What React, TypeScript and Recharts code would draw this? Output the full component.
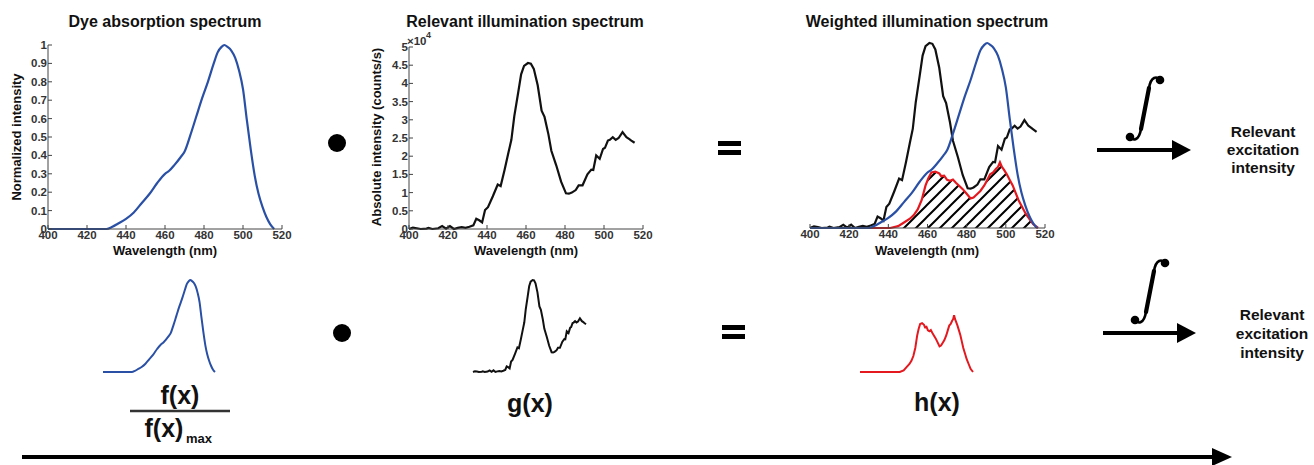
import React from 'react';
import { LineChart, ComposedChart, Line, Area, XAxis, YAxis } from 'recharts';

// dye absorption f(x), normalized
const absWl = [400, 410, 420, 430, 433, 436, 440, 444, 448, 452, 456, 460, 462, 465, 468, 470, 473, 476, 479, 482, 485, 487, 489, 490.5, 492, 494, 496, 498, 500, 502, 504, 506, 508, 510, 512, 514, 516];
const absVal = [0, 0, 0, 0, 0.012, 0.03, 0.055, 0.09, 0.14, 0.19, 0.25, 0.3, 0.315, 0.35, 0.39, 0.42, 0.51, 0.61, 0.71, 0.8, 0.9, 0.96, 0.99, 1.0, 0.99, 0.97, 0.93, 0.86, 0.76, 0.59, 0.43, 0.29, 0.19, 0.12, 0.065, 0.025, 0];

// illumination g(x), counts/s in units of 1e4
const illumWl = [400, 402, 404, 406, 409, 410, 412, 415, 417, 419, 421, 423, 425, 427, 429, 431, 433, 434.5, 436, 437.5, 439, 440.5, 443, 445.5, 447, 449, 451, 452.5, 454, 456, 457.5, 459, 461, 462.5, 464, 466, 468, 469.5, 471.5, 473, 475.5, 478, 480.5, 482, 483.5, 485.5, 487, 489, 491.5, 493.5, 494.5, 496, 497.8, 499.5, 500.5, 502, 503, 504.5, 506, 507.5, 509.5, 511.5, 513, 514, 515.7];
const illumVal = [0, 0.04, 0.02, 0, 0.01, 0.03, 0, 0.02, 0.08, 0.01, 0.08, 0, 0.03, 0.05, 0.03, 0.06, 0.1, 0.28, 0.24, 0.18, 0.52, 0.6, 0.9, 1.22, 1.18, 1.62, 2.1, 2.45, 3.1, 3.75, 4.25, 4.48, 4.56, 4.54, 4.4, 3.95, 3.25, 3.08, 2.6, 2.15, 1.75, 1.3, 0.98, 0.97, 1.0, 1.07, 1.2, 1.2, 1.5, 1.63, 1.62, 2.02, 1.93, 2.2, 2.23, 2.43, 2.45, 2.52, 2.45, 2.5, 2.66, 2.52, 2.47, 2.43, 2.37];

// weighted spectrum h(x)
const weightedWl = [400, 441, 445, 448, 451, 453, 455, 457, 459, 460.5, 462, 464, 466, 467, 468.5, 470, 471.5, 473, 474.5, 476, 478, 480, 482, 483.5, 485, 487, 489, 490.5, 492, 493.5, 495, 496, 497, 498, 499, 500.5, 502, 503.5, 505, 506.5, 508, 510, 512, 514, 516.5];
const weightedVal = [0, 0, 0.01, 0.03, 0.05, 0.07, 0.1, 0.15, 0.23, 0.27, 0.3, 0.305, 0.295, 0.28, 0.283, 0.26, 0.255, 0.262, 0.245, 0.23, 0.21, 0.185, 0.16, 0.165, 0.18, 0.2, 0.23, 0.26, 0.29, 0.3, 0.32, 0.33, 0.355, 0.33, 0.315, 0.29, 0.26, 0.23, 0.19, 0.15, 0.12, 0.08, 0.05, 0.02, 0];

const wlTicks = [400, 420, 440, 460, 480, 500, 520];
const normTicks = [0, 0.1, 0.2, 0.3, 0.4, 0.5, 0.6, 0.7, 0.8, 0.9, 1];
const countTicks = [0, 0.5, 1, 1.5, 2, 2.5, 3, 3.5, 4, 4.5, 5];

const absData = absWl.map((x, i) => ({ x, y: absVal[i] }));
const illumData = illumWl.map((x, i) => ({ x, y: illumVal[i] }));
const weightedData = weightedWl.map((x, i) => ({ x, y: weightedVal[i] }));

const FONT = '"Liberation Sans", Arial, sans-serif';
const BLUE = '#2a50a6';
const RED = '#e3191f';
const BLACK = '#111';
const AXIS = '#444';
const tickStyle = { fill: '#333', fontSize: 11.5, fontWeight: 700, fontFamily: FONT };

const place = (left: number, top: number): React.CSSProperties => ({ position: 'absolute', left, top });

// integral sign: bottom hook tip (x0, y0) to top hook tip (x1, y1)
function Integral({ x0, y0, x1, y1 }: { x0: number; y0: number; x1: number; y1: number }) {
  const stem = `M${x0 + 11},${y0 - 8} L${x1 - 11},${y1 + 8}`;
  const d = `M${x0},${y0} C${x0 + 3},${y0 + 4} ${x0 + 9},${y0 + 4} ${x0 + 11},${y0 - 8} L${x1 - 11},${y1 + 8} C${x1 - 9},${y1 - 4} ${x1 - 3},${y1 - 4} ${x1},${y1}`;
  return (
    <g>
      <path d={d} fill="none" stroke="#000" strokeWidth={2.6} />
      <path d={stem} fill="none" stroke="#000" strokeWidth={4.2} strokeLinecap="round" />
      <circle cx={x0} cy={y0} r={4.3} fill="#000" />
      <circle cx={x1} cy={y1} r={4.3} fill="#000" />
    </g>
  );
}

export default function App() {
  return (
    <div style={{ position: 'absolute', left: 0, top: 0, width: 1314, height: 465, background: '#fff', fontFamily: FONT }}>
      {/* Dye absorption spectrum */}
      <div style={place(8, 40)}>
        <LineChart width={289} height={209} margin={{ top: 5, right: 15, left: 0, bottom: 0 }}>
          <XAxis xAxisId="b" dataKey="x" type="number" domain={[400, 520]} ticks={wlTicks} interval={0} height={20}
            tickSize={-4} tickMargin={6} tick={tickStyle} stroke={AXIS} />
          <XAxis xAxisId="t" orientation="top" type="number" domain={[400, 520]} ticks={wlTicks} height={0}
            tickSize={-4} tick={false} stroke={AXIS} />
          <YAxis yAxisId="l" type="number" domain={[0, 1]} ticks={normTicks} interval={0} width={40}
            tickSize={-4} tickMargin={5} tick={tickStyle} stroke={AXIS} />
          <YAxis yAxisId="r" orientation="right" type="number" domain={[0, 1]} ticks={normTicks} width={0}
            tickSize={-4} tick={false} stroke={AXIS} />
          <Line xAxisId="b" yAxisId="l" data={absData} dataKey="y" type="monotone" stroke={BLUE} strokeWidth={2.2} dot={false} isAnimationActive={false} />
        </LineChart>
      </div>

      {/* Relevant illumination spectrum */}
      <div style={place(369, 42)}>
        <LineChart width={289} height={207} margin={{ top: 5, right: 15, left: 0, bottom: 0 }}>
          <XAxis xAxisId="b" dataKey="x" type="number" domain={[400, 520]} ticks={wlTicks} interval={0} height={20}
            tickSize={-4} tickMargin={6} tick={tickStyle} stroke={AXIS} />
          <XAxis xAxisId="t" orientation="top" type="number" domain={[400, 520]} ticks={wlTicks} height={0}
            tickSize={-4} tick={false} stroke={AXIS} />
          <YAxis yAxisId="l" type="number" domain={[0, 5]} ticks={countTicks} interval={0} width={40}
            tickSize={-4} tickMargin={5} tick={tickStyle} stroke={AXIS} />
          <YAxis yAxisId="r" orientation="right" type="number" domain={[0, 5]} ticks={countTicks} width={0}
            tickSize={-4} tick={false} stroke={AXIS} />
          <Line xAxisId="b" yAxisId="l" data={illumData} dataKey="y" type="linear" stroke={BLACK} strokeWidth={2.2} dot={false} isAnimationActive={false} />
        </LineChart>
      </div>

      {/* Weighted illumination spectrum */}
      <div style={place(770, 38)}>
        <ComposedChart width={290} height={210} margin={{ top: 5, right: 15, left: 0, bottom: 0 }}>
          <defs>
            <pattern id="hatch" patternUnits="userSpaceOnUse" width={12} height={12}>
              <path d="M-3,3 L3,-3 M0,12 L12,0 M9,15 L15,9" stroke="#000" strokeWidth={2} />
            </pattern>
          </defs>
          <XAxis xAxisId="b" dataKey="x" type="number" domain={[400, 520]} ticks={wlTicks} interval={0} height={20}
            tickSize={-4} tickMargin={6} tick={tickStyle} stroke={AXIS} />
          <XAxis xAxisId="t" orientation="top" type="number" domain={[400, 520]} ticks={wlTicks} height={0}
            tickSize={-4} tick={false} stroke={AXIS} />
          <YAxis yAxisId="l" type="number" domain={[0, 1]} ticks={normTicks} interval={0} width={40}
            tickSize={-4} tick={false} stroke={AXIS} />
          <YAxis yAxisId="r" orientation="right" type="number" domain={[0, 1]} ticks={normTicks} width={0}
            tickSize={-4} tick={false} stroke={AXIS} />
          <YAxis yAxisId="g" hide type="number" domain={[0, 4.56]} />
          <Area xAxisId="b" yAxisId="l" data={weightedData} dataKey="y" type="linear" stroke={RED} strokeWidth={2.2}
            fill="url(#hatch)" fillOpacity={1} dot={false} activeDot={false} isAnimationActive={false} />
          <Line xAxisId="b" yAxisId="g" data={illumData} dataKey="y" type="linear" stroke={BLACK} strokeWidth={2.2} dot={false} isAnimationActive={false} />
          <Line xAxisId="b" yAxisId="l" data={absData} dataKey="y" type="monotone" stroke={BLUE} strokeWidth={2.2} dot={false} isAnimationActive={false} />
        </ComposedChart>
      </div>

      {/* bottom row: small curves */}
      <div style={place(99, 276)}>
        <LineChart width={120} height={100} margin={{ top: 4, right: 4, left: 4, bottom: 4 }}>
          <XAxis dataKey="x" type="number" domain={[400, 516]} hide />
          <YAxis type="number" domain={[0, 1]} hide />
          <Line data={absData} dataKey="y" type="monotone" stroke={BLUE} strokeWidth={2} dot={false} isAnimationActive={false} />
        </LineChart>
      </div>
      <div style={place(469, 276)}>
        <LineChart width={121} height={100} margin={{ top: 4, right: 4, left: 4, bottom: 4 }}>
          <XAxis dataKey="x" type="number" domain={[400, 515.7]} hide />
          <YAxis type="number" domain={[0, 4.56]} hide />
          <Line data={illumData} dataKey="y" type="linear" stroke={BLACK} strokeWidth={2} dot={false} isAnimationActive={false} />
        </LineChart>
      </div>
      <div style={place(856, 276)}>
        <LineChart width={121} height={100} margin={{ top: 4, right: 4, left: 4, bottom: 4 }}>
          <XAxis dataKey="x" type="number" domain={[400, 516.5]} hide />
          <YAxis type="number" domain={[0, 0.575]} hide />
          <Line data={weightedData} dataKey="y" type="linear" stroke={RED} strokeWidth={2} dot={false} isAnimationActive={false} />
        </LineChart>
      </div>

      {/* titles, labels, operators */}
      <svg width={1314} height={465} style={{ position: 'absolute', left: 0, top: 0, pointerEvents: 'none' }}
        fontFamily={FONT} fontWeight={700}>
        <g fontSize={16} textAnchor="middle" fill={BLACK}>
          <text x={165} y={27}>Dye absorption spectrum</text>
          <text x={525} y={27}>Relevant illumination spectrum</text>
          <text x={927} y={27}>Weighted illumination spectrum</text>
        </g>
        <g fontSize={13} textAnchor="middle" fill={BLACK}>
          <text x={165} y={255}>Wavelength (nm)</text>
          <text x={526} y={255}>Wavelength (nm)</text>
          <text x={927} y={255}>Wavelength (nm)</text>
          <text transform="translate(21,137) rotate(-90)">Normalized intensity</text>
          <text transform="translate(381,137) rotate(-90)">Absolute intensity (counts/s)</text>
        </g>
        <text x={407} y={45} fontSize={11.5} fill="#333">×10</text>
        <text x={426} y={38} fontSize={9} fill="#333">4</text>

        {/* operators, top row */}
        <circle cx={337} cy={143} r={9} fill="#000" />
        <rect x={718} y={141} width={23} height={5} fill="#000" />
        <rect x={718} y={150} width={23} height={5} fill="#000" />
        <Integral x0={1130} y0={137} x1={1160} y1={80} />
        <line x1={1097} y1={150} x2={1175} y2={150} stroke="#000" strokeWidth={4} />
        <polygon points="1172,140 1191,150 1172,160" fill="#000" />
        <g fontSize={15.5} textAnchor="middle" fill={BLACK}>
          <text x={1263} y={137}>Relevant</text>
          <text x={1263} y={155}>excitation</text>
          <text x={1263} y={173}>intensity</text>
        </g>

        {/* operators, bottom row */}
        <g fontSize={25} textAnchor="middle" fill={BLACK} dominantBaseline="central">
          <text x={180} y={395}>f(x)</text>
          <text x={164} y={428}>f(x)</text>
          <text x={530} y={403}>g(x)</text>
          <text x={937} y={402}>h(x)</text>
        </g>
        <text x={199} y={443} fontSize={13} textAnchor="middle" fill={BLACK}>max</text>
        <line x1={130} y1={411} x2={230} y2={411} stroke="#333" strokeWidth={2.5} />
        <circle cx={342} cy={333} r={9} fill="#000" />
        <rect x={722} y={325} width={23} height={5} fill="#000" />
        <rect x={722} y={334} width={23} height={5} fill="#000" />
        <Integral x0={1135} y0={320} x1={1165} y1={263} />
        <line x1={1103} y1={333} x2={1180} y2={333} stroke="#000" strokeWidth={4} />
        <polygon points="1177,323 1196,333 1177,343" fill="#000" />
        <g fontSize={15.5} textAnchor="middle" fill={BLACK}>
          <text x={1272} y={320}>Relevant</text>
          <text x={1272} y={339}>excitation</text>
          <text x={1272} y={358}>intensity</text>
        </g>

        {/* process arrow */}
        <line x1={22} y1={457} x2={1215} y2={457} stroke="#000" strokeWidth={4} />
        <polygon points="1212,448 1232,457 1212,466" fill="#000" />
      </svg>
    </div>
  );
}
